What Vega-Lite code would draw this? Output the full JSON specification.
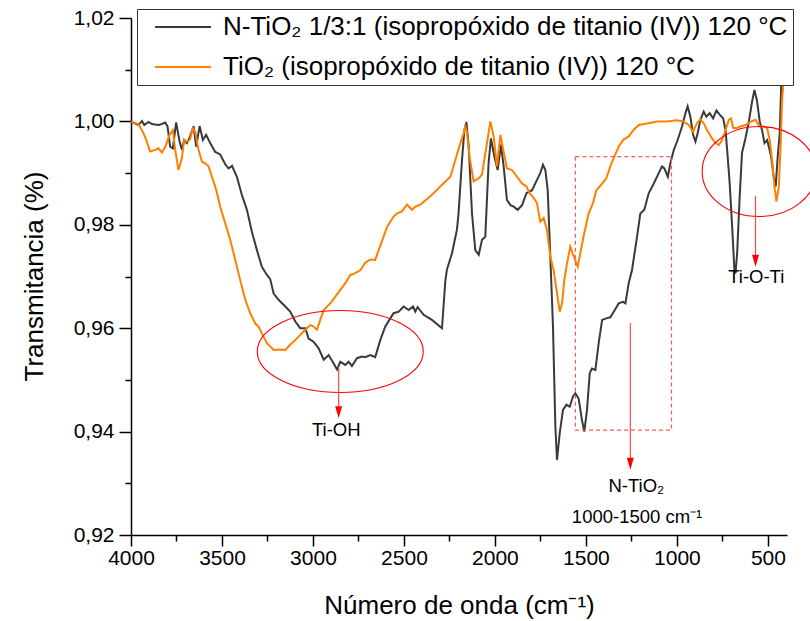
{
  "$schema": "https://vega.github.io/schema/vega-lite/v6.json",
  "width": 656,
  "height": 517,
  "autosize": {"type": "none"},
  "padding": {"left": 131, "top": 18, "right": 23, "bottom": 86},
  "background": "white",
  "config": {
    "view": {"stroke": null},
    "font": "Liberation Sans",
    "axis": {"grid": false, "labelFlush": false, "domainColor": "#000", "tickColor": "#000", "labelColor": "#000", "titleColor": "#000", "titleFontWeight": "normal", "labelFont": "Liberation Sans", "titleFont": "Liberation Sans"}
  },
  "datasets": {
    "spectra": [
      {"s":"N","w":3998,"v":1.0000},{"s":"N","w":3990,"v":0.9998},{"s":"N","w":3959,"v":0.9993},{"s":"N","w":3940,"v":1.0001},{"s":"N","w":3927,"v":0.9993},{"s":"N","w":3904,"v":0.9999},{"s":"N","w":3885,"v":0.9995},{"s":"N","w":3849,"v":0.9993},{"s":"N","w":3830,"v":0.9995},{"s":"N","w":3812,"v":0.9998},{"s":"N","w":3799,"v":0.9990},{"s":"N","w":3785,"v":0.9951},{"s":"N","w":3770,"v":0.9948},{"s":"N","w":3752,"v":0.9998},{"s":"N","w":3733,"v":0.9961},{"s":"N","w":3720,"v":0.9945},{"s":"N","w":3708,"v":0.9964},{"s":"N","w":3693,"v":0.9958},{"s":"N","w":3675,"v":0.9971},{"s":"N","w":3656,"v":0.9991},{"s":"N","w":3642,"v":0.9951},{"s":"N","w":3623,"v":0.9991},{"s":"N","w":3605,"v":0.9964},{"s":"N","w":3587,"v":0.9974},{"s":"N","w":3565,"v":0.9958},{"s":"N","w":3537,"v":0.9941},{"s":"N","w":3510,"v":0.9936},{"s":"N","w":3482,"v":0.9917},{"s":"N","w":3464,"v":0.9909},{"s":"N","w":3445,"v":0.9914},{"s":"N","w":3418,"v":0.9893},{"s":"N","w":3391,"v":0.9858},{"s":"N","w":3363,"v":0.9829},{"s":"N","w":3336,"v":0.9787},{"s":"N","w":3308,"v":0.9751},{"s":"N","w":3281,"v":0.9719},{"s":"N","w":3253,"v":0.9703},{"s":"N","w":3235,"v":0.9695},{"s":"N","w":3216,"v":0.9667},{"s":"N","w":3189,"v":0.9655},{"s":"N","w":3152,"v":0.9642},{"s":"N","w":3125,"v":0.9632},{"s":"N","w":3097,"v":0.9613},{"s":"N","w":3070,"v":0.9600},{"s":"N","w":3042,"v":0.9600},{"s":"N","w":3024,"v":0.9580},{"s":"N","w":2997,"v":0.9574},{"s":"N","w":2969,"v":0.9561},{"s":"N","w":2941,"v":0.9539},{"s":"N","w":2914,"v":0.9548},{"s":"N","w":2887,"v":0.9532},{"s":"N","w":2868,"v":0.9520},{"s":"N","w":2850,"v":0.9535},{"s":"N","w":2822,"v":0.9529},{"s":"N","w":2804,"v":0.9535},{"s":"N","w":2786,"v":0.9527},{"s":"N","w":2758,"v":0.9542},{"s":"N","w":2731,"v":0.9545},{"s":"N","w":2713,"v":0.9544},{"s":"N","w":2685,"v":0.9548},{"s":"N","w":2658,"v":0.9544},{"s":"N","w":2630,"v":0.9577},{"s":"N","w":2603,"v":0.9603},{"s":"N","w":2575,"v":0.9619},{"s":"N","w":2557,"v":0.9629},{"s":"N","w":2529,"v":0.9632},{"s":"N","w":2502,"v":0.9642},{"s":"N","w":2474,"v":0.9635},{"s":"N","w":2450,"v":0.9642},{"s":"N","w":2438,"v":0.9632},{"s":"N","w":2425,"v":0.9641},{"s":"N","w":2392,"v":0.9626},{"s":"N","w":2346,"v":0.9616},{"s":"N","w":2291,"v":0.9600},{"s":"N","w":2273,"v":0.9690},{"s":"N","w":2264,"v":0.9713},{"s":"N","w":2236,"v":0.9745},{"s":"N","w":2209,"v":0.9790},{"s":"N","w":2200,"v":0.9822},{"s":"N","w":2181,"v":0.9925},{"s":"N","w":2168,"v":0.9983},{"s":"N","w":2157,"v":0.9999},{"s":"N","w":2144,"v":0.9951},{"s":"N","w":2126,"v":0.9822},{"s":"N","w":2108,"v":0.9751},{"s":"N","w":2089,"v":0.9742},{"s":"N","w":2071,"v":0.9771},{"s":"N","w":2053,"v":0.9777},{"s":"N","w":2035,"v":0.9919},{"s":"N","w":2022,"v":0.9967},{"s":"N","w":2003,"v":0.9932},{"s":"N","w":1985,"v":0.9906},{"s":"N","w":1967,"v":0.9955},{"s":"N","w":1952,"v":0.9913},{"s":"N","w":1934,"v":0.9848},{"s":"N","w":1915,"v":0.9838},{"s":"N","w":1897,"v":0.9835},{"s":"N","w":1875,"v":0.9829},{"s":"N","w":1851,"v":0.9838},{"s":"N","w":1827,"v":0.9861},{"s":"N","w":1796,"v":0.9867},{"s":"N","w":1769,"v":0.9887},{"s":"N","w":1751,"v":0.9900},{"s":"N","w":1736,"v":0.9916},{"s":"N","w":1723,"v":0.9906},{"s":"N","w":1710,"v":0.9867},{"s":"N","w":1695,"v":0.9732},{"s":"N","w":1681,"v":0.9603},{"s":"N","w":1668,"v":0.9410},{"s":"N","w":1659,"v":0.9345},{"s":"N","w":1644,"v":0.9397},{"s":"N","w":1626,"v":0.9442},{"s":"N","w":1607,"v":0.9452},{"s":"N","w":1589,"v":0.9448},{"s":"N","w":1571,"v":0.9468},{"s":"N","w":1558,"v":0.9474},{"s":"N","w":1540,"v":0.9464},{"s":"N","w":1522,"v":0.9423},{"s":"N","w":1509,"v":0.9400},{"s":"N","w":1494,"v":0.9442},{"s":"N","w":1479,"v":0.9513},{"s":"N","w":1467,"v":0.9522},{"s":"N","w":1448,"v":0.9519},{"s":"N","w":1430,"v":0.9571},{"s":"N","w":1411,"v":0.9616},{"s":"N","w":1388,"v":0.9619},{"s":"N","w":1366,"v":0.9621},{"s":"N","w":1347,"v":0.9632},{"s":"N","w":1320,"v":0.9648},{"s":"N","w":1296,"v":0.9651},{"s":"N","w":1283,"v":0.9648},{"s":"N","w":1265,"v":0.9687},{"s":"N","w":1247,"v":0.9712},{"s":"N","w":1219,"v":0.9777},{"s":"N","w":1201,"v":0.9822},{"s":"N","w":1179,"v":0.9829},{"s":"N","w":1155,"v":0.9861},{"s":"N","w":1127,"v":0.9880},{"s":"N","w":1100,"v":0.9900},{"s":"N","w":1082,"v":0.9913},{"s":"N","w":1069,"v":0.9909},{"s":"N","w":1050,"v":0.9893},{"s":"N","w":1036,"v":0.9919},{"s":"N","w":1017,"v":0.9945},{"s":"N","w":996,"v":0.9964},{"s":"N","w":972,"v":0.9990},{"s":"N","w":953,"v":1.0016},{"s":"N","w":941,"v":1.0029},{"s":"N","w":926,"v":1.0009},{"s":"N","w":911,"v":0.9974},{"s":"N","w":898,"v":0.9961},{"s":"N","w":886,"v":0.9977},{"s":"N","w":871,"v":1.0003},{"s":"N","w":853,"v":1.0019},{"s":"N","w":838,"v":1.0009},{"s":"N","w":820,"v":1.0016},{"s":"N","w":801,"v":1.0006},{"s":"N","w":783,"v":1.0021},{"s":"N","w":765,"v":1.0013},{"s":"N","w":746,"v":1.0006},{"s":"N","w":733,"v":0.9984},{"s":"N","w":721,"v":0.9932},{"s":"N","w":710,"v":0.9880},{"s":"N","w":697,"v":0.9800},{"s":"N","w":684,"v":0.9712},{"s":"N","w":678,"v":0.9706},{"s":"N","w":669,"v":0.9745},{"s":"N","w":655,"v":0.9855},{"s":"N","w":642,"v":0.9940},{"s":"N","w":624,"v":0.9966},{"s":"N","w":605,"v":0.9999},{"s":"N","w":587,"v":1.0038},{"s":"N","w":574,"v":1.0061},{"s":"N","w":560,"v":1.0040},{"s":"N","w":545,"v":1.0000},{"s":"N","w":532,"v":0.9983},{"s":"N","w":519,"v":0.9958},{"s":"N","w":504,"v":0.9964},{"s":"N","w":495,"v":0.9951},{"s":"N","w":482,"v":0.9932},{"s":"N","w":468,"v":0.9893},{"s":"N","w":457,"v":0.9874},{"s":"N","w":446,"v":0.9932},{"s":"N","w":435,"v":0.9977},{"s":"N","w":427,"v":1.0067},{"s":"N","w":415,"v":1.0250},
      {"s":"T","w":3998,"v":1.0000},{"s":"T","w":3990,"v":0.9998},{"s":"T","w":3959,"v":0.9995},{"s":"T","w":3935,"v":0.9980},{"s":"T","w":3917,"v":0.9965},{"s":"T","w":3895,"v":0.9942},{"s":"T","w":3867,"v":0.9945},{"s":"T","w":3849,"v":0.9948},{"s":"T","w":3830,"v":0.9940},{"s":"T","w":3812,"v":0.9951},{"s":"T","w":3788,"v":0.9974},{"s":"T","w":3770,"v":0.9983},{"s":"T","w":3757,"v":0.9945},{"s":"T","w":3739,"v":0.9906},{"s":"T","w":3720,"v":0.9929},{"s":"T","w":3708,"v":0.9964},{"s":"T","w":3693,"v":0.9961},{"s":"T","w":3675,"v":0.9965},{"s":"T","w":3660,"v":0.9987},{"s":"T","w":3647,"v":0.9980},{"s":"T","w":3629,"v":0.9945},{"s":"T","w":3610,"v":0.9922},{"s":"T","w":3592,"v":0.9919},{"s":"T","w":3574,"v":0.9913},{"s":"T","w":3546,"v":0.9883},{"s":"T","w":3532,"v":0.9868},{"s":"T","w":3510,"v":0.9835},{"s":"T","w":3482,"v":0.9803},{"s":"T","w":3455,"v":0.9771},{"s":"T","w":3427,"v":0.9732},{"s":"T","w":3400,"v":0.9693},{"s":"T","w":3372,"v":0.9655},{"s":"T","w":3345,"v":0.9629},{"s":"T","w":3317,"v":0.9609},{"s":"T","w":3299,"v":0.9603},{"s":"T","w":3281,"v":0.9590},{"s":"T","w":3253,"v":0.9571},{"s":"T","w":3216,"v":0.9558},{"s":"T","w":3180,"v":0.9559},{"s":"T","w":3152,"v":0.9558},{"s":"T","w":3125,"v":0.9568},{"s":"T","w":3097,"v":0.9577},{"s":"T","w":3070,"v":0.9587},{"s":"T","w":3042,"v":0.9597},{"s":"T","w":3015,"v":0.9606},{"s":"T","w":3000,"v":0.9604},{"s":"T","w":2978,"v":0.9597},{"s":"T","w":2960,"v":0.9616},{"s":"T","w":2941,"v":0.9635},{"s":"T","w":2905,"v":0.9648},{"s":"T","w":2877,"v":0.9661},{"s":"T","w":2850,"v":0.9674},{"s":"T","w":2822,"v":0.9687},{"s":"T","w":2795,"v":0.9703},{"s":"T","w":2777,"v":0.9705},{"s":"T","w":2740,"v":0.9712},{"s":"T","w":2712,"v":0.9727},{"s":"T","w":2685,"v":0.9733},{"s":"T","w":2658,"v":0.9732},{"s":"T","w":2639,"v":0.9751},{"s":"T","w":2612,"v":0.9777},{"s":"T","w":2593,"v":0.9796},{"s":"T","w":2557,"v":0.9816},{"s":"T","w":2538,"v":0.9822},{"s":"T","w":2511,"v":0.9826},{"s":"T","w":2483,"v":0.9839},{"s":"T","w":2456,"v":0.9829},{"s":"T","w":2438,"v":0.9835},{"s":"T","w":2410,"v":0.9839},{"s":"T","w":2355,"v":0.9855},{"s":"T","w":2300,"v":0.9874},{"s":"T","w":2245,"v":0.9893},{"s":"T","w":2218,"v":0.9925},{"s":"T","w":2190,"v":0.9958},{"s":"T","w":2172,"v":0.9977},{"s":"T","w":2163,"v":0.9990},{"s":"T","w":2154,"v":0.9980},{"s":"T","w":2139,"v":0.9931},{"s":"T","w":2117,"v":0.9884},{"s":"T","w":2089,"v":0.9890},{"s":"T","w":2071,"v":0.9897},{"s":"T","w":2047,"v":0.9951},{"s":"T","w":2025,"v":1.0000},{"s":"T","w":2007,"v":0.9971},{"s":"T","w":1989,"v":0.9913},{"s":"T","w":1970,"v":0.9974},{"s":"T","w":1952,"v":0.9941},{"s":"T","w":1934,"v":0.9909},{"s":"T","w":1906,"v":0.9906},{"s":"T","w":1879,"v":0.9893},{"s":"T","w":1851,"v":0.9880},{"s":"T","w":1827,"v":0.9874},{"s":"T","w":1809,"v":0.9861},{"s":"T","w":1787,"v":0.9852},{"s":"T","w":1769,"v":0.9842},{"s":"T","w":1751,"v":0.9806},{"s":"T","w":1732,"v":0.9813},{"s":"T","w":1714,"v":0.9790},{"s":"T","w":1696,"v":0.9739},{"s":"T","w":1677,"v":0.9711},{"s":"T","w":1659,"v":0.9668},{"s":"T","w":1644,"v":0.9632},{"s":"T","w":1631,"v":0.9648},{"s":"T","w":1619,"v":0.9693},{"s":"T","w":1604,"v":0.9725},{"s":"T","w":1586,"v":0.9758},{"s":"T","w":1567,"v":0.9739},{"s":"T","w":1545,"v":0.9719},{"s":"T","w":1531,"v":0.9745},{"s":"T","w":1509,"v":0.9784},{"s":"T","w":1485,"v":0.9822},{"s":"T","w":1461,"v":0.9842},{"s":"T","w":1443,"v":0.9867},{"s":"T","w":1417,"v":0.9877},{"s":"T","w":1388,"v":0.9890},{"s":"T","w":1366,"v":0.9913},{"s":"T","w":1344,"v":0.9932},{"s":"T","w":1320,"v":0.9951},{"s":"T","w":1296,"v":0.9964},{"s":"T","w":1265,"v":0.9971},{"s":"T","w":1237,"v":0.9984},{"s":"T","w":1210,"v":0.9993},{"s":"T","w":1164,"v":0.9996},{"s":"T","w":1109,"v":1.0000},{"s":"T","w":1054,"v":1.0000},{"s":"T","w":1000,"v":1.0002},{"s":"T","w":963,"v":1.0000},{"s":"T","w":935,"v":0.9993},{"s":"T","w":911,"v":0.9980},{"s":"T","w":889,"v":0.9997},{"s":"T","w":871,"v":1.0004},{"s":"T","w":852,"v":0.9996},{"s":"T","w":834,"v":0.9983},{"s":"T","w":807,"v":0.9967},{"s":"T","w":788,"v":0.9958},{"s":"T","w":770,"v":0.9954},{"s":"T","w":752,"v":0.9964},{"s":"T","w":733,"v":0.9983},{"s":"T","w":715,"v":1.0003},{"s":"T","w":702,"v":1.0006},{"s":"T","w":691,"v":0.9987},{"s":"T","w":673,"v":0.9987},{"s":"T","w":651,"v":0.9990},{"s":"T","w":623,"v":0.9993},{"s":"T","w":596,"v":0.9999},{"s":"T","w":568,"v":1.0003},{"s":"T","w":545,"v":0.9990},{"s":"T","w":523,"v":0.9990},{"s":"T","w":504,"v":0.9987},{"s":"T","w":490,"v":0.9964},{"s":"T","w":477,"v":0.9926},{"s":"T","w":464,"v":0.9874},{"s":"T","w":453,"v":0.9845},{"s":"T","w":440,"v":0.9874},{"s":"T","w":431,"v":0.9945},{"s":"T","w":422,"v":1.0041},{"s":"T","w":413,"v":1.0080},{"s":"T","w":404,"v":1.0235}
    ],
    "box": [{"w": 1558, "w2": 1030, "v": 0.9932, "v2": 0.9403}],
    "ohEllipse": [{"w": 2850, "v": 0.9555}],
    "tiEllipse": [{"w": 548, "v": 0.9903}],
    "arrows": [
      {"w": 2859, "v": 0.9526, "v2": 0.9440},
      {"w": 568, "v": 0.9856, "v2": 0.9735},
      {"w": 1256, "v": 0.9610, "v2": 0.9342}
    ],
    "heads": [
      {"w": 2859, "v": 0.9426},
      {"w": 568, "v": 0.9719},
      {"w": 1256, "v": 0.9326}
    ],
    "labels": [
      {"t": "Ti-OH", "w": 2872, "v": 0.9403},
      {"t": "Ti-O-Ti", "w": 564, "v": 0.9700},
      {"t": "N-TiO₂", "w": 1223, "v": 0.9295},
      {"t": "1000-1500 cm⁻¹", "w": 1219, "v": 0.9234}
    ]
  },
  "resolve": {"axis": {"x": "independent", "y": "independent"}},
  "layer": [
    {
      "data": {"name": "spectra"},
      "mark": {"type": "line", "clip": true, "strokeWidth": 2},
      "encoding": {
        "x": {"field": "w", "type": "quantitative",
          "scale": {"domain": [395, 4000], "reverse": true, "nice": false, "zero": false},
          "axis": {"title": "Número de onda (cm⁻¹)", "values": [4000, 3500, 3000, 2500, 2000, 1500, 1000, 500], "format": "d", "orient": "bottom",
            "tickSize": 11, "tickWidth": 1.5, "domainWidth": 1.5, "labelFontSize": 21, "labelPadding": 1,
            "titleFontSize": 26, "titleX": 328, "titleY": 70, "titleBaseline": "middle"}},
        "y": {"field": "v", "type": "quantitative",
          "scale": {"domain": [0.92, 1.02], "nice": false, "zero": false},
          "axis": {"title": "Transmitancia (%)", "values": [0.92, 0.94, 0.96, 0.98, 1.0, 1.02], "orient": "left",
            "labelExpr": "replace(format(datum.value, '.2f'), '.', ',')",
            "tickSize": 12, "tickWidth": 1.5, "domainWidth": 1.5, "labelFontSize": 21, "labelPadding": 5,
            "titleFontSize": 26, "titleX": -97, "titleY": 258, "titleBaseline": "middle"}},
        "color": {"field": "s", "type": "nominal",
          "scale": {"domain": ["N", "T"], "range": ["#3a3a3a", "#ff8000"]},
          "legend": {"orient": "none", "legendX": 6, "legendY": -9, "title": null,
            "labelExpr": "datum.value == 'N' ? 'N-TiO₂ 1/3:1 (isopropóxido de titanio (IV)) 120 °C' : 'TiO₂ (isopropóxido de titanio (IV)) 120 °C'",
            "labelFontSize": 26, "labelFont": "Liberation Sans", "labelColor": "#000", "labelLimit": 0,
            "symbolType": "M 0 0 L 14 0", "symbolSize": 64, "symbolStrokeWidth": 2, "labelOffset": 55,
            "rowPadding": 14, "padding": 5, "strokeColor": "#333", "fillColor": "white"}}
      }
    },
    {
      "data": {"name": "box"},
      "mark": {"type": "rect", "fill": null, "fillOpacity": 0, "stroke": "#ff5a5a", "strokeWidth": 1.2, "strokeDash": [4, 3]},
      "encoding": {
        "x": {"field": "w", "type": "quantitative",
          "axis": {"orient": "bottom", "values": [3750, 3250, 2750, 2250, 1750, 1250, 750], "labels": false, "domain": false, "title": null, "tickSize": 6, "tickWidth": 1.5}},
        "x2": {"field": "w2"},
        "y": {"field": "v", "type": "quantitative",
          "axis": {"orient": "left", "values": [0.93, 0.95, 0.97, 0.99, 1.01], "labels": false, "domain": false, "title": null, "tickSize": 6, "tickWidth": 1.5}},
        "y2": {"field": "v2"}
      }
    },
    {
      "data": {"name": "ohEllipse"},
      "mark": {"type": "point", "shape": "M -83 0 A 83 41 0 1 0 83 0 A 83 41 0 1 0 -83 0 Z", "size": 4, "filled": false, "stroke": "#ff0000", "strokeWidth": 1.1, "opacity": 1},
      "encoding": {
        "x": {"field": "w", "type": "quantitative", "axis": null},
        "y": {"field": "v", "type": "quantitative", "axis": null}
      }
    },
    {
      "data": {"name": "tiEllipse"},
      "mark": {"type": "point", "shape": "M -57 0 A 57 45 0 1 0 57 0 A 57 45 0 1 0 -57 0 Z", "size": 4, "filled": false, "stroke": "#ff0000", "strokeWidth": 1.1, "opacity": 1},
      "encoding": {
        "x": {"field": "w", "type": "quantitative", "axis": null},
        "y": {"field": "v", "type": "quantitative", "axis": null}
      }
    },
    {
      "data": {"name": "arrows"},
      "mark": {"type": "rule", "stroke": "#ff4848", "strokeWidth": 1.2},
      "encoding": {
        "x": {"field": "w", "type": "quantitative", "axis": null},
        "y": {"field": "v", "type": "quantitative", "axis": null},
        "y2": {"field": "v2"}
      }
    },
    {
      "data": {"name": "heads"},
      "mark": {"type": "point", "shape": "M -3.5 -12 L 3.5 -12 L 0 0 Z", "size": 4, "filled": true, "fill": "#ff0000", "strokeWidth": 0, "opacity": 1},
      "encoding": {
        "x": {"field": "w", "type": "quantitative", "axis": null},
        "y": {"field": "v", "type": "quantitative", "axis": null}
      }
    },
    {
      "data": {"name": "labels"},
      "mark": {"type": "text", "font": "Liberation Sans", "fontSize": 18.5, "color": "#000", "align": "center", "baseline": "middle"},
      "encoding": {
        "x": {"field": "w", "type": "quantitative", "axis": null},
        "y": {"field": "v", "type": "quantitative", "axis": null},
        "text": {"field": "t"}
      }
    }
  ]
}
